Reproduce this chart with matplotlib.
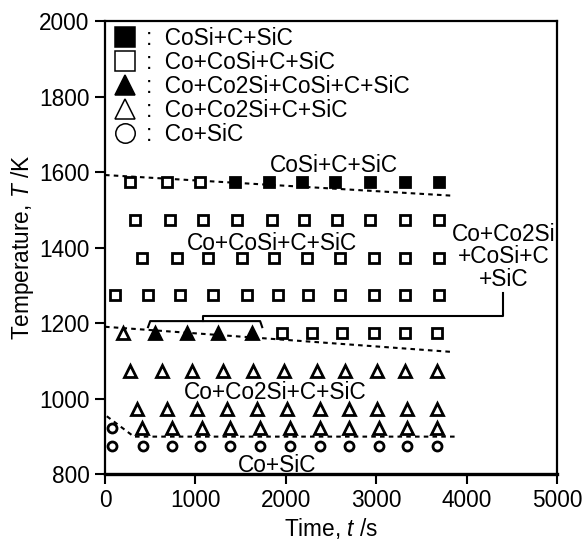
import matplotlib
matplotlib.use('Agg')
import matplotlib.pyplot as plt
from matplotlib.lines import Line2D

plt.rcParams['font.family'] = ['Liberation Sans', 'DejaVu Sans']
plt.rcParams['mathtext.fontset'] = 'custom'
plt.rcParams['mathtext.rm'] = 'Liberation Sans'
plt.rcParams['mathtext.it'] = 'Liberation Sans:italic'

# ---------------- data ----------------
# CoSi+C+SiC (filled squares)
cosi_t = [1440, 1810, 2180, 2545, 2935, 3320, 3690]
cosi_T = [1573] * 7

# Co+CoSi+C+SiC (open squares)
co_cosi_t = [277, 683, 1052,
             332, 720, 1089, 1458, 1846, 2196, 2566, 2935, 3322, 3691,
             406, 794, 1144, 1514, 1864, 2234, 2602, 2971, 3322, 3691,
             111, 480, 831, 1199, 1569, 1919, 2251, 2602, 2971, 3322, 3691,
             1957, 2289, 2621, 2971, 3322, 3673]
co_cosi_T = [1573] * 3 + [1473] * 10 + [1373] * 10 + [1273] * 11 + [1173] * 6

# Co+Co2Si+CoSi+C+SiC (filled triangles)
co_co2si_cosi_t = [554, 905, 1255, 1625]
co_co2si_cosi_T = [1173] * 4

# Co+Co2Si+C+SiC (open triangles)
co_co2si_t = [203,
              277, 628, 960, 1310, 1642, 1975, 2344, 2658, 3009, 3322, 3673,
              351, 683, 1015, 1348, 1680, 2012, 2381, 2694, 3009, 3341, 3673,
              406, 739, 1071, 1384, 1717, 2049, 2381, 2694, 3027, 3341, 3673]
co_co2si_T = [1173] + [1073] * 11 + [973] * 11 + [923] * 11

# Co+SiC (open circles)
co_sic_t = [74,
            74, 424, 739, 1052, 1384, 1717, 2049, 2381, 2694, 3027, 3341, 3673]
co_sic_T = [921] + [873] * 12

# phase boundaries (dashed)
bound1_t = [0, 3860]
bound1_T = [1592, 1537]
bound2_t = [0, 3860]
bound2_T = [1190, 1123]
bound3_t = [20, 320, 3870]
bound3_T = [953, 899, 899]

# bracket annotation for the 4-phase region
brace_t = [476, 500, 1716, 1739]
brace_T = [1189, 1205, 1205, 1189]
connector_t = [1085, 1085, 4407, 4407]
connector_T = [1205, 1219, 1219, 1279]

legend_labels = ['CoSi+C+SiC', 'Co+CoSi+C+SiC', 'Co+Co2Si+CoSi+C+SiC',
                 'Co+Co2Si+C+SiC', 'Co+SiC']
legend_markers = ['s', 's', '^', '^', 'o']
legend_filled = [True, False, True, False, False]

region_labels = ['CoSi+C+SiC', 'Co+CoSi+C+SiC', 'Co+Co2Si\n+CoSi+C\n+SiC',
                 'Co+Co2Si+C+SiC', 'Co+SiC']
region_t = [2527, 1846, 4410, 1878, 1900]
region_T = [1600, 1393, 1375, 1000, 805]

x_ticks = [0, 1000, 2000, 3000, 4000, 5000]
y_ticks = [800, 1000, 1200, 1400, 1600, 1800, 2000]

# ---------------- plot ----------------
FS = 16.3
fig = plt.figure(figsize=(5.84, 5.47), dpi=100)
ax = fig.add_axes([105 / 584, 73 / 547, 452 / 584, 453 / 547])

dash = (0, (2.2, 2.0))
for bt, bT in [(bound1_t, bound1_T), (bound2_t, bound2_T), (bound3_t, bound3_T)]:
    ax.plot(bt, bT, color='black', lw=1.5, ls=dash, zorder=1)

ax.plot(brace_t, brace_T, color='black', lw=1.5, zorder=1)
ax.plot(connector_t, connector_T, color='black', lw=1.5, zorder=1)

mk = dict(ls='none', mec='black', mew=2.0, zorder=3)
ax.plot(co_cosi_t, co_cosi_T, marker='s', ms=7, mfc='white', **mk)
ax.plot(cosi_t, cosi_T, marker='s', ms=7, mfc='black', **mk)
ax.plot(co_co2si_t, co_co2si_T, marker='^', ms=8, mfc='white', **mk)
ax.plot(co_co2si_cosi_t, co_co2si_cosi_T, marker='^', ms=8.5, mfc='black', **mk)
ax.plot(co_sic_t, co_sic_T, marker='o', ms=6.5, mfc='white', **mk)

for lab, t, T in zip(region_labels, region_t, region_T):
    if '\n' in lab:
        ax.text(t, T, lab, ha='center', va='center', fontsize=FS,
                linespacing=0.95, multialignment='center')
    else:
        ax.text(t, T, lab, ha='center', va='baseline', fontsize=FS)

# legend (marker : label)
handles = [Line2D([], [], ls='none', marker=m, ms=14,
                  mfc='black' if f else 'white', mec='black', mew=1.1)
           for m, f in zip(legend_markers, legend_filled)]
ax.legend(handles, [':  ' + l for l in legend_labels], loc='upper left',
          bbox_to_anchor=(0.0, 1.006), frameon=False, fontsize=FS,
          handlelength=1.0, handletextpad=0.4, labelspacing=0.04,
          borderaxespad=0.2, borderpad=0.2)

ax.set_xlim(0, 5000)
ax.set_ylim(800, 2000)
ax.set_xticks(x_ticks)
ax.set_yticks(y_ticks)
ax.tick_params(direction='out', length=7, width=1.5, labelsize=FS, pad=4)
for s in ax.spines.values():
    s.set_linewidth(1.6)
ax.spines['bottom'].set_linewidth(2.4)

ax.set_xlabel('Time, $t$ /s', fontsize=FS, labelpad=3)
ax.set_ylabel('Temperature, $T$ /K', fontsize=FS, labelpad=2)

fig.savefig('out.png', dpi=100)
